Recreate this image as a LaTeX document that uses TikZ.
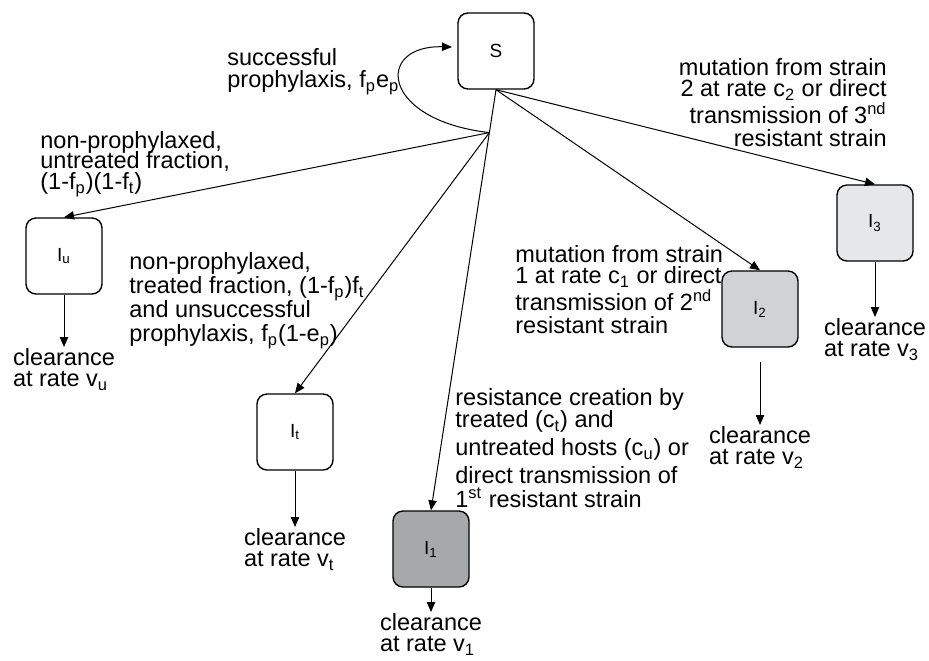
\documentclass[tikz,border=0pt]{standalone}
\usepackage{fontspec}
\setmainfont{Liberation Sans}
\usetikzlibrary{arrows.meta,calc}

\definecolor{gray1}{RGB}{167,168,170}
\definecolor{gray2}{RGB}{209,210,212}
\definecolor{gray3}{RGB}{230,231,232}
\newcommand\lblsize[1]{\fontsize{11.75}{#1}\selectfont\lineskiplimit=-20pt}

\begin{document}
\begin{tikzpicture}[x=0.5pt,y=-0.5pt,
	>={Triangle[length=5pt,width=4.2pt]},
	box/.style={draw,line width=0.7pt,rounded corners=5pt,minimum size=38pt,inner sep=0pt,font=\fontsize{9.5}{11}\selectfont},
	lbl/.style={inner sep=0pt,align=left,anchor=north west},
	clr/.style={inner sep=0.75pt,align=left,anchor=north,font=\lblsize{10.25pt}},
	edge/.style={line width=0.5pt,->}]
	\useasboundingbox (0,0) rectangle (929,660);

	\node[box] (S) at (496,51) {S};
	\node[box] (Iu) at (64,256) {I\textsubscript{u}};
	\node[box] (It) at (295,432) {I\textsubscript{t}};
	\node[box,fill=gray1] (I1) at (431,549) {I\textsubscript{1}};
	\node[box,fill=gray2] (I2) at (760,309) {I\textsubscript{2}};
	\node[box,fill=gray3] (I3) at (875,223) {I\textsubscript{3}};

	\coordinate (hub) at ($(S.south)!0.102!(I1.north)$);
	\coordinate (back) at (452,47);

	\draw[edge] (hub) .. controls (380,120) and (375,45) .. (back);
	\draw[edge] (hub) -- (Iu.north);
	\draw[edge] (hub) -- (It.north);
	\draw[edge] (S.south) -- (I1.north);
	\draw[edge] (S.south) -- (I2.north);
	\draw[edge] (S.south) -- (I3.north);

	\node[lbl,font=\lblsize{11pt}] (lsucc) at (227,48) {successful\\prophylaxis, f\textsubscript{p}e\textsubscript{p}};
	\node[lbl,font=\lblsize{10.25pt}] (lunt) at (40,131) {non-prophylaxed,\\untreated fraction,\\(1-f\textsubscript{p})(1-f\textsubscript{t})};
	\node[lbl,font=\lblsize{12pt}] (ltr) at (129,252) {non-prophylaxed,\\treated fraction, (1-f\textsubscript{p})f\textsubscript{t}\\and unsuccessful\\prophylaxis, f\textsubscript{p}(1-e\textsubscript{p})};
	\node[lbl,font=\lblsize{11pt}] (lres) at (455,388) {resistance creation by\\treated (c\textsubscript{t}) and\\[3pt]untreated hosts (c\textsubscript{u}) or\\[3pt]direct transmission of\\[1pt]1\textsuperscript{st} resistant strain};
	\node[lbl,font=\lblsize{10.5pt}] (lmut1) at (515,245) {mutation from strain\\1 at rate c\textsubscript{1} or direct\\[3pt]transmission of 2\textsuperscript{nd}\\[1pt]resistant strain};
	\node[lbl,align=right,anchor=north east,font=\lblsize{10.5pt}] (lmut2) at (887,58) {mutation from strain\\2 at rate c\textsubscript{2} or direct\\[3pt]transmission of 3\textsuperscript{nd}\\[1pt]resistant strain};

	\node[clr] (cu) at (64,347) {clearance\\at rate v\textsubscript{u}};
	\node[clr] (ct) at (295,527) {clearance\\at rate v\textsubscript{t}};
	\node[clr] (c1) at (431,612) {clearance\\at rate v\textsubscript{1}};
	\node[clr] (c2) at (760,425) {clearance\\at rate v\textsubscript{2}};
	\node[clr] (c3) at (875,317) {clearance\\at rate v\textsubscript{3}};
	\coordinate (I2gap) at (760,362);

	\draw[edge] (Iu.south) -- (cu.north);
	\draw[edge] (It.south) -- (ct.north);
	\draw[edge] (I1.south) -- (c1.north);
	\draw[edge] (I2gap) -- (c2.north);
	\draw[edge] (I3.south) -- (c3.north);
\end{tikzpicture}
\end{document}
